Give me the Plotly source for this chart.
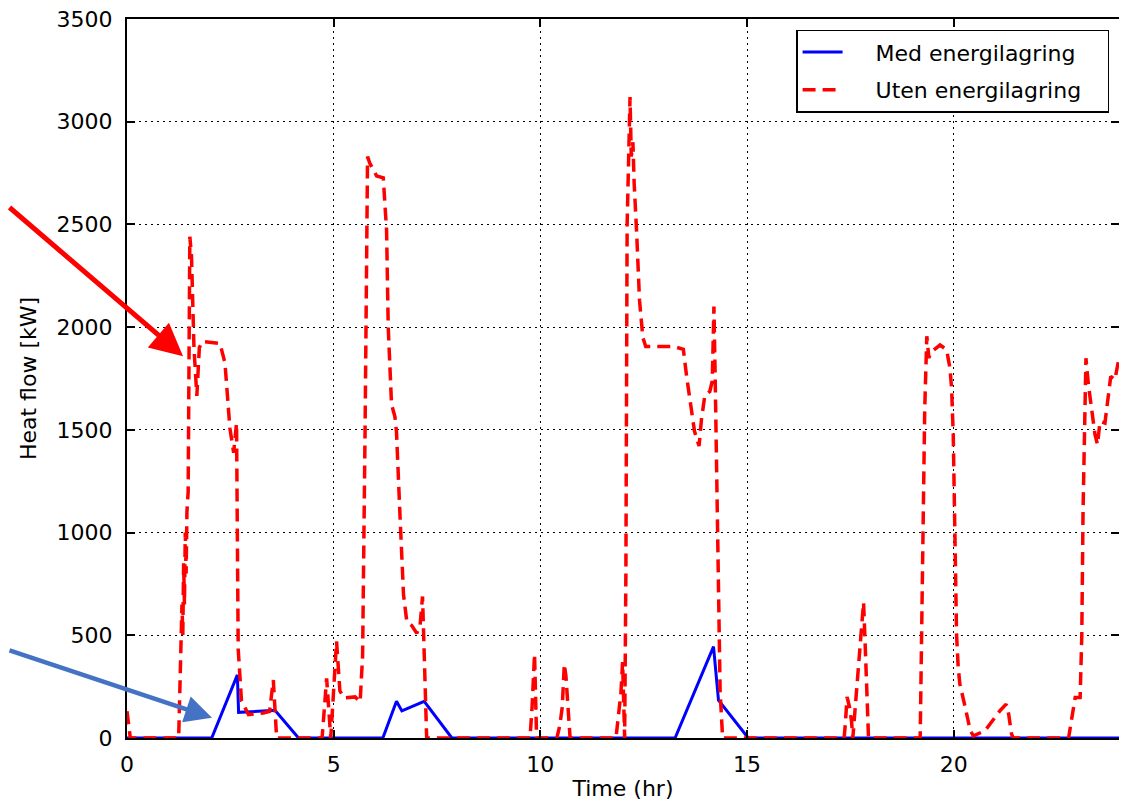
import plotly.graph_objects as go

# ---- data ----
t_uten = [0, 0.08, 1.25, 1.3, 1.33, 1.35, 1.37, 1.39, 1.41, 1.43, 1.45, 1.48, 1.50, 1.52, 1.56, 1.62,
          1.69, 1.75, 1.82, 2.25, 2.37, 2.49, 2.58, 2.65, 2.69, 2.77, 2.94, 3.30, 3.45, 3.54, 3.62,
          4.72, 4.83, 4.93, 5.07, 5.15, 5.25, 5.52, 5.64, 5.70, 5.76, 5.82, 5.87, 6.04, 6.20, 6.28,
          6.32, 6.40, 6.48, 6.52, 6.61, 6.69, 6.77, 6.89, 7.01, 7.09, 7.15, 7.18, 7.25,
          9.75, 9.80, 9.86, 9.91, 10.40, 10.47, 10.53, 10.58, 10.62, 10.66, 10.72,
          11.83, 11.90, 11.95, 11.99, 12.02, 12.04, 12.07, 12.10, 12.17, 12.20, 12.24, 12.27, 12.33,
          12.40, 12.48, 12.55, 13.22, 13.46, 13.54, 13.62, 13.73, 13.84, 13.90, 13.98, 14.10, 14.16,
          14.20, 14.23, 14.28, 14.35, 14.41,
          17.35, 17.38, 17.42, 17.48, 17.53, 17.56, 17.60, 17.65, 17.70, 17.76, 17.82, 17.86, 17.90, 17.94,
          19.19, 19.25, 19.30, 19.35, 19.40, 19.44, 19.67, 19.83, 19.91, 19.95, 19.99, 20.03, 20.07,
          20.11, 20.15, 20.28, 20.40, 20.48, 20.76, 20.88, 21.12, 21.27, 21.33, 21.40, 21.44,
          22.78, 22.86, 22.94, 23.06, 23.10, 23.13, 23.16, 23.20, 23.26, 23.34, 23.42, 23.48, 23.54,
          23.66, 23.74, 23.80, 23.90, 24.0]
q_uten = [130, 0, 0, 350, 650, 500, 850, 650, 1000, 800, 1100, 1200, 1900, 2440, 2350, 1900,
          1665, 1900, 1930, 1920, 1826, 1507, 1389, 1532, 433, 181, 114, 122, 130, 282, 0,
          0, 290, 0, 470, 230, 195, 200, 175, 400, 1500, 2830, 2800, 2736, 2727, 2472,
          2000, 1623, 1566, 1491, 1057, 698, 566, 547, 510, 547, 689, 490, 0,
          0, 150, 409, 0, 0, 60, 150, 360, 300, 180, 0,
          0, 120, 220, 370, 200, 0, 800, 2500, 3120, 2830, 2900, 2700, 2460,
          2130, 1950, 1906, 1906, 1892, 1759, 1636, 1493, 1421, 1554, 1667, 1687, 1738,
          2100, 1759, 1000, 225, 0,
          0, 70, 200, 150, 80, 0, 100, 200, 330, 500, 660, 450, 200, 0,
          0, 900, 1600, 1956, 1850, 1876, 1913, 1890, 1800, 1703, 1476, 990, 505,
          343, 262, 149, 36, 10, 36, 68, 133, 165, 117, 20, 0,
          0, 100, 197, 197, 502, 1100, 1476, 1849, 1720, 1606, 1476, 1428, 1541,
          1533, 1655, 1760, 1744, 1850]

t_med = [0, 2.05, 2.67, 2.70, 3.00, 3.58, 4.15, 6.19, 6.52, 6.65, 7.19, 7.86,
         13.26, 14.19, 14.31, 15.03, 24.0]
q_med = [0, 0, 307, 125, 128, 135, 0, 0, 179, 132, 178, 0,
         0, 445, 184, 0, 0]

x_ticks = [0, 5, 10, 15, 20]
y_ticks = [0, 500, 1000, 1500, 2000, 2500, 3000, 3500]

FONT = "DejaVu Sans"
NB = "\u00a0"

fig = go.Figure()
fig.add_trace(go.Scatter(x=t_med, y=q_med, mode="lines", name=NB * 4 + "Med energilagring" + NB * 3,
                         legendgroup="a", line=dict(color="#0000FF", width=3)))
fig.add_trace(go.Scatter(x=t_uten, y=q_uten, mode="lines", name=NB * 4 + "Uten energilagring" + NB * 3,
                         legendgroup="b", line=dict(color="#FF0000", width=3.5, dash="13px,7px")))

axis_common = dict(showline=True, linecolor="black", linewidth=2, mirror="allticks",
                   ticks="inside", ticklen=8, tickwidth=1.5, tickcolor="black",
                   showgrid=True, gridcolor="black", gridwidth=1, griddash="2px,4px",
                   zeroline=False, automargin=False, ticklabeloverflow="allow",
                   tickfont=dict(family=FONT, size=22, color="black"))

fig.update_xaxes(range=[0, 24], tickvals=x_ticks, ticktext=[str(v) for v in x_ticks],
                 title=dict(text="Time (hr)", font=dict(family=FONT, size=22, color="black"), standoff=4),
                 ticklabelstandoff=6, **axis_common)
fig.update_yaxes(range=[0, 3500], tickvals=y_ticks, ticktext=[str(v) for v in y_ticks],
                 title=dict(text="Heat flow [kW]", font=dict(family=FONT, size=22, color="black"), standoff=14),
                 ticklabelstandoff=8, **axis_common)

# The page body adds an 8px offset, so the figure is sized/margined to land the
# plot area where the reference has it.
fig.update_layout(
    width=1119, height=798,
    margin=dict(l=119, r=8, t=11, b=68),
    paper_bgcolor="white", plot_bgcolor="white",
    font=dict(family=FONT, size=22, color="black"),
    showlegend=True,
    legend=dict(x=0.99, y=0.985, xanchor="right", yanchor="top",
                bgcolor="white", bordercolor="black", borderwidth=1.5, tracegroupgap=6,
                font=dict(family=FONT, size=22, color="black"), itemwidth=40),
    annotations=[
        dict(x=0.0565, y=0.531, xref="paper", yref="paper", text="", showarrow=True,
             ax=-183, ay=-150, axref="pixel", ayref="pixel",
             arrowhead=2, arrowsize=1.3, arrowwidth=5, arrowcolor="#FF0000"),
        dict(x=0.0857, y=0.028, xref="paper", yref="paper", text="", showarrow=True,
             ax=-212, ay=-68, axref="pixel", ayref="pixel",
             arrowhead=2, arrowsize=1.2, arrowwidth=4.5, arrowcolor="#4472C4"),
    ],
)

fig.write_html("out.html")
